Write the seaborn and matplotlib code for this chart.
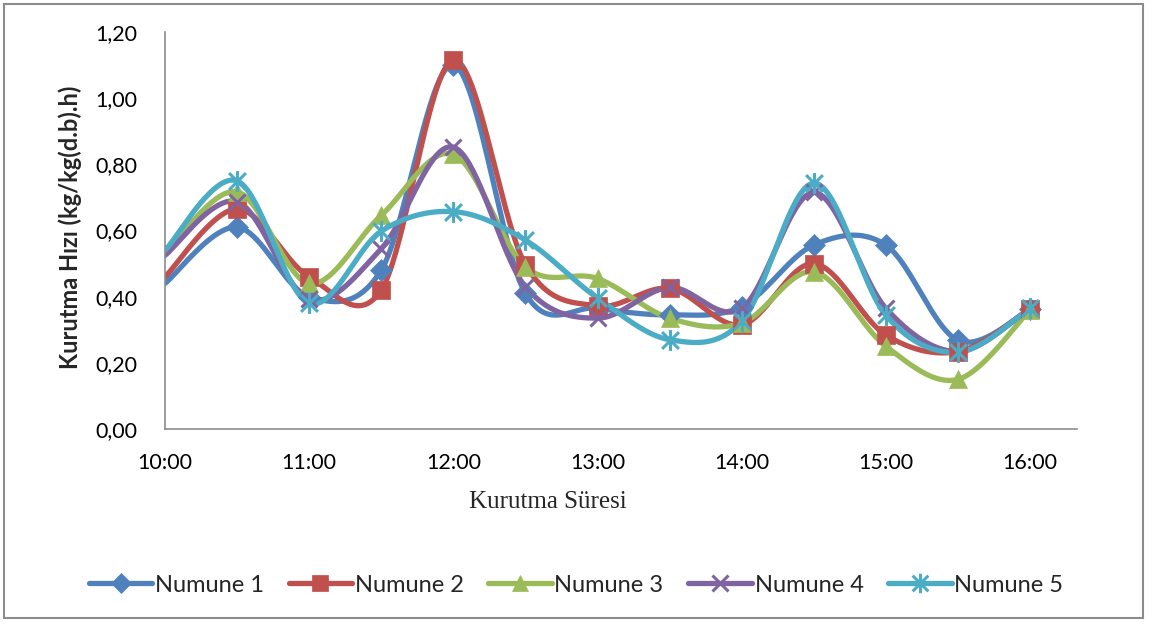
import numpy as np
import pandas as pd
import matplotlib
matplotlib.use("Agg")
import matplotlib.pyplot as plt
from matplotlib.lines import Line2D
from matplotlib.patches import Rectangle
from matplotlib.path import Path
from matplotlib.ticker import FixedLocator, FuncFormatter
import seaborn as sns

# Drying-rate measurements, one reading every half hour
saat = ["10:00", "10:30", "11:00", "11:30", "12:00", "12:30", "13:00",
        "13:30", "14:00", "14:30", "15:00", "15:30", "16:00"]
numune1 = [0.44, 0.61, 0.40, 0.48, 1.10, 0.41, 0.365, 0.345, 0.37, 0.556, 0.556, 0.268, 0.362]
numune2 = [0.46, 0.665, 0.46, 0.42, 1.115, 0.497, 0.372, 0.425, 0.315, 0.50, 0.284, 0.234, 0.362]
numune3 = [0.53, 0.717, 0.44, 0.646, 0.83, 0.49, 0.455, 0.335, 0.32, 0.475, 0.25, 0.15, 0.36]
numune4 = [0.525, 0.687, 0.392, 0.545, 0.852, 0.43, 0.335, 0.428, 0.365, 0.715, 0.365, 0.234, 0.365]
numune5 = [0.54, 0.75, 0.38, 0.598, 0.657, 0.571, 0.396, 0.27, 0.325, 0.743, 0.344, 0.232, 0.365]

seri_adlari = ["Numune 1", "Numune 2", "Numune 3", "Numune 4", "Numune 5"]
seriler = [numune1, numune2, numune3, numune4, numune5]
eksen_etiketleri = ["10:00", "11:00", "12:00", "13:00", "14:00", "15:00", "16:00"]
y_etiketleri = ["0,00", "0,20", "0,40", "0,60", "0,80", "1,00", "1,20"]

# asterisk marker: an "x" with a vertical bar through it
yildiz = Path([(-0.5, -0.5), (0.5, 0.5), (-0.5, 0.5), (0.5, -0.5), (0, -0.62), (0, 0.62)],
              [Path.MOVETO, Path.LINETO, Path.MOVETO, Path.LINETO, Path.MOVETO, Path.LINETO])

renkler = ["#4F81BD", "#C0504D", "#9BBB59", "#8064A2", "#4BACC6"]
isaretler = ["D", "s", "^", "x", yildiz]
isaret_boyu = [11, 13, 13, 12, 15]
isaret_kenar = [0.5, 0.5, 0.5, 2.2, 2.2]


def saat_to_float(s):
    h, m = s.split(":")
    return int(h) + int(m) / 60.0


def smooth(xs, ys, n=40):
    """Bezier smoothing through every point (Catmull-Rom control points)."""
    pts = np.column_stack([xs, ys])
    P = np.vstack([pts[0], pts, pts[-1]])
    out = []
    seg = len(pts) - 1
    for i in range(seg):
        p0, p1, p2, p3 = P[i], P[i + 1], P[i + 2], P[i + 3]
        c1 = p1 + (p2 - p0) / 6.0
        c2 = p2 - (p3 - p1) / 6.0
        t = np.linspace(0, 1, n, endpoint=(i == seg - 1))[:, None]
        b = ((1 - t) ** 3) * p1 + 3 * ((1 - t) ** 2) * t * c1 + 3 * (1 - t) * t ** 2 * c2 + t ** 3 * p2
        out.append(b)
    out = np.vstack(out)
    return out[:, 0], out[:, 1]


x_saat = np.array([saat_to_float(s) for s in saat])

frames = []
for ad, ys in zip(seri_adlari, seriler):
    sx, sy = smooth(x_saat, np.array(ys))
    frames.append(pd.DataFrame({"Saat": sx, "Hiz": sy, "Numune": ad}))
egri = pd.concat(frames, ignore_index=True)

sns.set_theme(style="white")
plt.rcParams["font.family"] = ["Lato", "DejaVu Sans"]

fig = plt.figure(figsize=(11.52, 6.28), dpi=100)
ax = fig.add_axes([165 / 1152, 1 - 429 / 628, (1077 - 165) / 1152, (429 - 32) / 628])

sns.lineplot(data=egri, x="Saat", y="Hiz", hue="Numune", palette=renkler,
             sort=False, estimator=None, units="Numune", linewidth=3.8,
             legend=False, ax=ax)

for i, (ad, ys) in enumerate(zip(seri_adlari, seriler)):
    ax.plot(x_saat[1:], ys[1:], linestyle="none", marker=isaretler[i],
            markersize=isaret_boyu[i], color=renkler[i],
            markeredgecolor=renkler[i], markeredgewidth=isaret_kenar[i],
            zorder=3 + i)

ax.set_xlim(10.0, 16.0 + (1077 - 1030) / 144.2)
ax.set_ylim(0, 1.2)
ax.xaxis.set_major_locator(FixedLocator([saat_to_float(s) for s in eksen_etiketleri]))
ax.xaxis.set_major_formatter(FuncFormatter(lambda v, p: eksen_etiketleri[int(round(v)) - 10]))
ax.yaxis.set_major_locator(FixedLocator([0, 0.2, 0.4, 0.6, 0.8, 1.0, 1.2]))
ax.yaxis.set_major_formatter(FuncFormatter(lambda v, p: y_etiketleri[int(round(v * 5))]))
ax.tick_params(axis="x", length=0, pad=17, labelsize=15.5, colors="black")
ax.tick_params(axis="y", length=0, pad=20, labelsize=15.5, colors="black")
ax.set_xlabel("")
ax.set_ylabel("")
for s in ["top", "right"]:
    ax.spines[s].set_visible(False)
for s in ["left", "bottom"]:
    ax.spines[s].set_color("#8C8C8C")
    ax.spines[s].set_linewidth(1.2)
ax.set_facecolor("white")

fig.text(70 / 1152, 1 - 227 / 628, "Kurutma Hızı (kg/kg(d.b).h)", rotation=90,
         ha="center", va="center", fontsize=17, fontweight="bold")
fig.text(548 / 1152, 1 - 502 / 628, "Kurutma Süresi", ha="center", va="center",
         fontsize=18, family=["Liberation Serif", "DejaVu Serif"])

handles = [Line2D([], [], color=renkler[i], linewidth=3.8, marker=isaretler[i],
                  markersize=isaret_boyu[i] - 1, markeredgecolor=renkler[i],
                  markeredgewidth=isaret_kenar[i]) for i in range(5)]
fig.legend(handles, seri_adlari, loc="center", bbox_to_anchor=(576 / 1152, 1 - 585 / 628),
           ncol=5, frameon=False, handlelength=2.7, columnspacing=1.05,
           handletextpad=0.1, fontsize=17)

fig.patches.append(Rectangle((4 / 1152, 1 - 618 / 628), (1143 - 4) / 1152, (618 - 4) / 628,
                             transform=fig.transFigure, fill=False,
                             edgecolor="#8C8C8C", linewidth=1.5))

fig.savefig("out.png", dpi=100, facecolor="white")
